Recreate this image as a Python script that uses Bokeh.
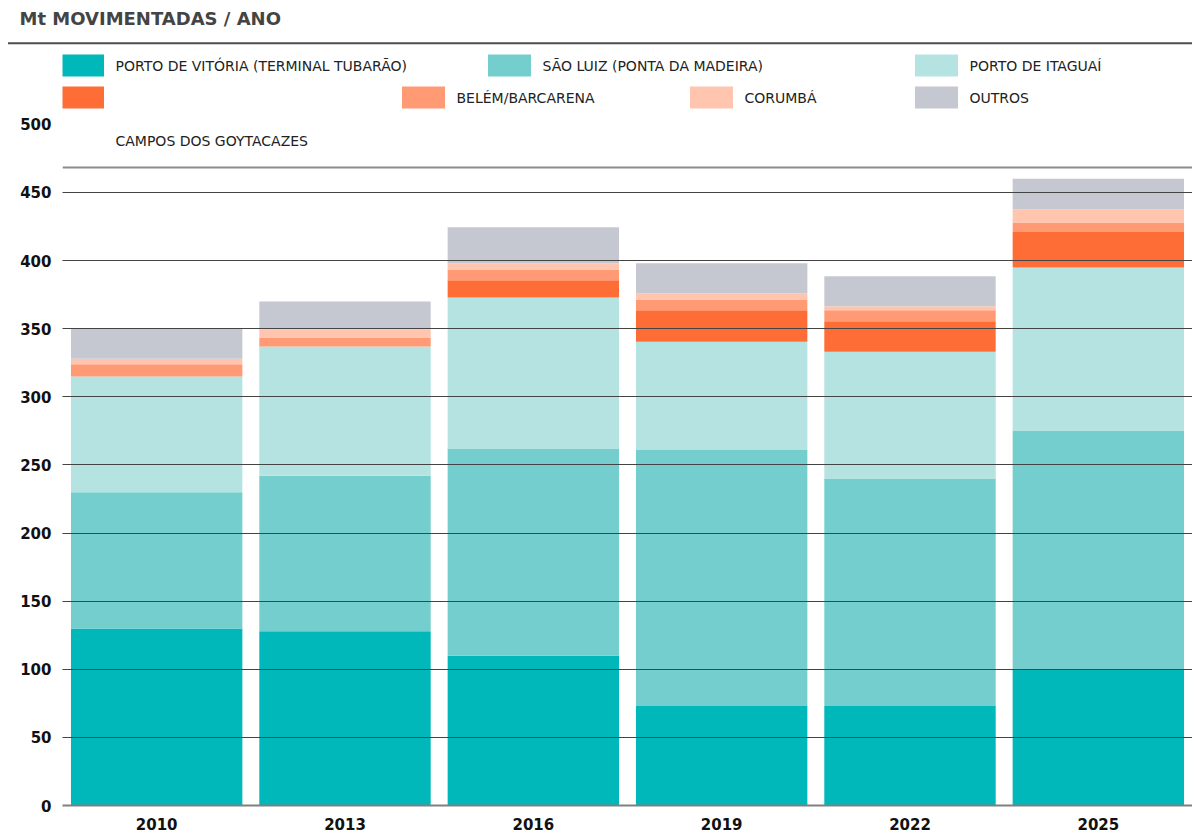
from bokeh.plotting import figure
from bokeh.models import ColumnDataSource, FactorRange, Range1d, FixedTicker, Span
from bokeh.layouts import column
from bokeh.embed import file_html
from bokeh.resources import INLINE
from bokeh.core.properties import value

# ---------------- data ----------------
years = ["2010", "2013", "2016", "2019", "2022", "2025"]
vitoria = [130, 128, 110, 73, 73, 100]
sao_luiz = [100, 114, 152, 188, 167, 175]
itaguai = [85, 95, 111, 79.5, 93, 120]
campos = [0, 0, 12.5, 23, 22.5, 26]
belem = [9, 6.5, 8, 8, 8, 7]
corumba = [4, 6, 4.5, 4.5, 3, 9.5]
outros = [22, 20.5, 26.5, 22, 22, 22.5]

series_keys = ["vitoria", "sao_luiz", "itaguai", "campos", "belem", "corumba", "outros"]
legend_labels = ["PORTO DE VITÓRIA (TERMINAL TUBARÃO)", "SÃO LUIZ (PONTA DA MADEIRA)",
                 "PORTO DE ITAGUAÍ", "CAMPOS DOS GOYTACAZES", "BELÉM/BARCARENA",
                 "CORUMBÁ", "OUTROS"]
colors = ["#00B8B9", "#74CECD", "#B4E3E2", "#FF6D37", "#FF9A75", "#FFC5AF", "#C5C8D0"]
y_ticks = [0, 50, 100, 150, 200, 250, 300, 350, 400, 450, 500]
title_text = "Mt MOVIMENTADAS / ANO"

FONT = value("DejaVu Sans")
W = 1192

# ---------------- header figure (title + rule) ----------------
top = figure(width=W, height=48, x_range=Range1d(0, W), y_range=Range1d(0, 48),
             output_backend="svg", toolbar_location=None, min_border=0,
             x_axis_location=None, y_axis_location=None)
top.frame_align = False
top.grid.visible = False
top.outline_line_color = None
top.text(x=[19], y=[29.7], text=[title_text], text_font=FONT, text_font_style="bold",
         text_font_size="18px", text_color="#444444", text_baseline="middle", text_align="left")
top.segment(x0=[7.5], y0=[5.3], x1=[W], y1=[5.3], line_color="#4d4d4d", line_width=2)

# ---------------- chart ----------------
FRAME_L = 62
FRAME_H = 757
Y_END = 555.7
SCALE = FRAME_H / Y_END
BASE = 48 + FRAME_H  # page y of zero line
CAT_W = (W - FRAME_L) / len(years)


def ly(py):
    """layout helper: page-pixel y -> chart y"""
    return (BASE - py) / SCALE


def lx(px):
    """layout helper: page-pixel x -> synthetic categorical x"""
    return (px - FRAME_L) / CAT_W


source = ColumnDataSource(dict(years=years, vitoria=vitoria, sao_luiz=sao_luiz, itaguai=itaguai,
                               campos=campos, belem=belem, corumba=corumba, outros=outros))

p = figure(width=W, height=838 - 48, x_range=FactorRange(*years), y_range=Range1d(0, Y_END),
           output_backend="svg", toolbar_location=None,
           min_border_left=FRAME_L, min_border_right=0, min_border_top=0,
           min_border_bottom=838 - 48 - FRAME_H)
p.frame_align = False
p.outline_line_color = None
p.background_fill_color = "white"

p.vbar_stack(series_keys, x="years", width=0.91, fill_color=colors, line_color=None, source=source)

# axes
p.yaxis.ticker = FixedTicker(ticks=y_ticks)
p.yaxis.axis_line_color = None
p.yaxis.major_tick_line_color = None
p.yaxis.minor_tick_line_color = None
p.yaxis.major_label_standoff = 5
p.yaxis.major_label_text_font = "DejaVu Sans"
p.yaxis.major_label_text_font_style = "bold"
p.yaxis.major_label_text_font_size = "15px"
p.yaxis.major_label_text_color = "#111111"

p.xaxis.axis_line_color = "#808080"
p.xaxis.axis_line_width = 2
p.xaxis.major_tick_line_color = None
p.xaxis.minor_tick_line_color = None
p.xaxis.major_label_standoff = 6
p.xaxis.major_label_text_font = "DejaVu Sans"
p.xaxis.major_label_text_font_style = "bold"
p.xaxis.major_label_text_font_size = "15px"
p.xaxis.major_label_text_color = "#111111"

# grid drawn over the bars
p.xgrid.visible = False
p.ygrid.ticker = FixedTicker(ticks=y_ticks[1:-1])
p.ygrid.grid_line_color = "#444444"
p.ygrid.grid_line_width = 1.2
p.ygrid.level = "overlay"

p.add_layout(Span(location=ly(167), dimension="width", line_color="#8c8c8c", line_width=2))

# legend (manual, mirrors reference layout)
sw_left = [61, 488, 915, 61, 402, 690, 915]
sw_row = [65, 65, 65, 97, 97, 97, 97]
p.rect(x=[lx(v + 21) for v in sw_left], y=[ly(v) for v in sw_row], width=43, height=22,
       width_units="screen", height_units="screen", fill_color=colors, line_color=None)
txt_x = [lx(v + 54) for v in sw_left]
txt_y = [ly(v) for v in sw_row]
shown = [0, 1, 2, 4, 5, 6]
p.text(x=[txt_x[i] for i in shown], y=[txt_y[i] for i in shown],
       text=[legend_labels[i] for i in shown], text_font=FONT, text_font_size="14px",
       text_color="#222222", text_baseline="middle", text_align="left")
p.text(x=[lx(115)], y=[ly(140)], text=[legend_labels[3]], text_font=FONT,
       text_font_size="14px", text_color="#222222", text_baseline="middle", text_align="left")

layout = column(top, p)
open("out.html", "w").write(file_html(layout, INLINE))
